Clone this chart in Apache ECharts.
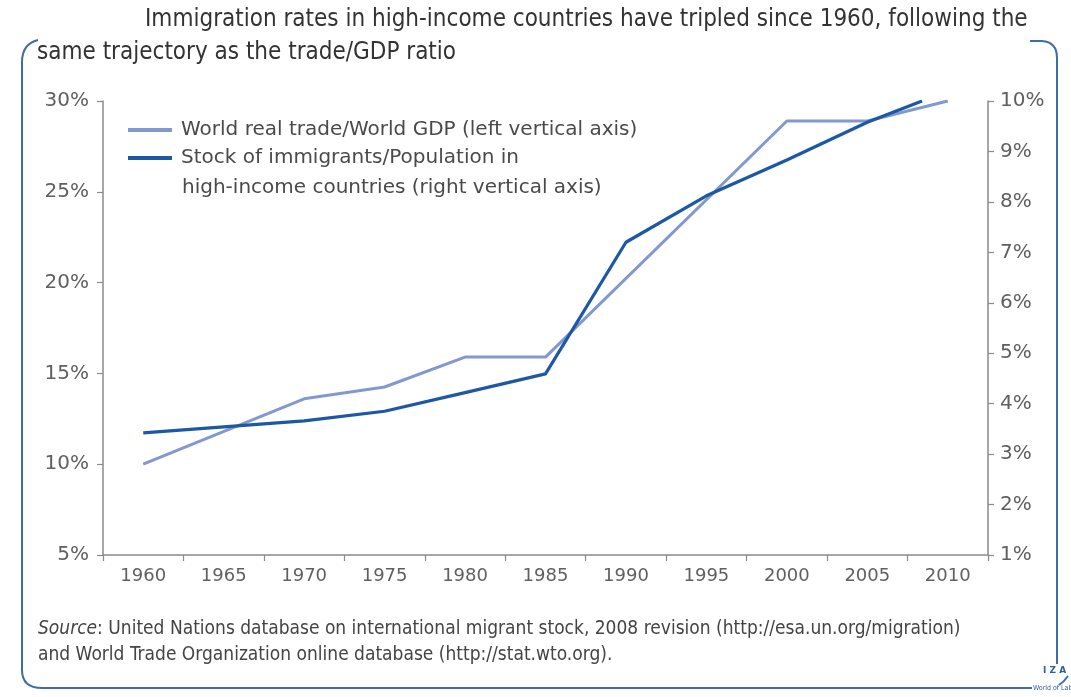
<!DOCTYPE html>
<html>
<head>
<meta charset="utf-8">
<title>Immigration and trade</title>
<script src="https://cdn.jsdelivr.net/npm/echarts@6/dist/echarts.min.js"></script>
<style>
  html, body { margin: 0; padding: 0; background: #ffffff; }
  #chart { width: 1071px; height: 697px; }
</style>
</head>
<body>
<div id="chart"></div>
<script>
// Category labels shown under the x axis
const years = ['1960', '1965', '1970', '1975', '1980', '1985', '1990', '1995', '2000', '2005', '2010'];

// World real trade / World GDP, percent (left axis)
const tradeYears = [1960, 1970, 1975, 1980, 1985, 2000, 2005, 2010];
const tradeValues = [10.0, 13.6, 14.25, 15.9, 15.9, 28.9, 28.9, 30.0];

// Stock of immigrants / population in high-income countries, percent (right axis)
const migrantYears = [1960, 1970, 1975, 1980, 1985, 1990, 1995, 2000, 2005, 2008.4];
const migrantValues = [3.42, 3.66, 3.85, 4.22, 4.59, 7.2, 8.12, 8.83, 9.58, 10.0];

// Axis tick settings
const leftTicks = { min: 5, max: 30, interval: 5 };
const rightTicks = { min: 1, max: 10, interval: 1 };

const tradeName = 'World real trade/World GDP (left vertical axis)';
const migrantName = 'Stock of immigrants/Population in high-income countries (right vertical axis)';

const narrow = '"Liberation Sans Narrow", "DejaVu Sans Condensed", "Open Sans", sans-serif';
const sans = '"DejaVu Sans", "Open Sans", sans-serif';
const axisGrey = '#8a8a8a';
const labelGrey = '#606060';
const frameBlue = '#3d6ea6';

const zip = (xs, ys) => xs.map((x, i) => [x, ys[i]]);

const frameStyle = { fill: null, stroke: frameBlue, lineWidth: 2 };
const seg = (x1, y1, x2, y2) => ({ type: 'line', silent: true, shape: { x1, y1, x2, y2 }, style: frameStyle });
const curve = (x1, y1, cx, cy, x2, y2) => ({
  type: 'bezierCurve', silent: true,
  shape: { x1, y1, cpx1: cx, cpy1: cy, x2, y2 },
  style: frameStyle
});

const chart = echarts.init(document.getElementById('chart'), null, { renderer: 'canvas' });

chart.setOption({
  backgroundColor: '#ffffff',
  animation: false,
  title: [
    {
      text: 'Immigration rates in high-income countries have tripled since 1960, following the',
      left: 145, top: 8, padding: 0,
      textStyle: { fontFamily: narrow, fontSize: 24, fontWeight: 'normal', color: '#333333' }
    },
    {
      text: 'same trajectory as the trade/GDP ratio',
      left: 37, top: 41, padding: 0,
      textStyle: { fontFamily: narrow, fontSize: 24, fontWeight: 'normal', color: '#333333' }
    }
  ],
  legend: {
    orient: 'vertical',
    left: 128, top: 118,
    padding: 0,
    itemGap: 4,
    itemWidth: 44, itemHeight: 4,
    icon: 'rect',
    data: [tradeName, migrantName],
    formatter: name => name === migrantName ? 'Stock of immigrants/Population in' : name,
    textStyle: { fontFamily: sans, fontSize: 20, color: '#4a4a4a', lineHeight: 24, padding: [0, 0, 0, 4] }
  },
  grid: { left: 103, right: 83, top: 101, bottom: 142, containLabel: false },
  xAxis: [
    {
      type: 'category',
      data: years,
      boundaryGap: true,
      axisLine: { lineStyle: { color: axisGrey, width: 1.5 } },
      axisTick: { show: true, length: 6, lineStyle: { color: axisGrey, width: 1.2 } },
      axisLabel: { fontFamily: sans, fontSize: 18, color: labelGrey, margin: 12 },
      splitLine: { show: false }
    },
    {
      type: 'value',
      min: 1957.5, max: 2012.5,
      show: false,
      splitLine: { show: false }
    }
  ],
  yAxis: [
    {
      type: 'value',
      position: 'left',
      min: leftTicks.min, max: leftTicks.max, interval: leftTicks.interval,
      axisLine: { show: true, lineStyle: { color: axisGrey, width: 1.5 } },
      axisTick: { show: true, length: 6, lineStyle: { color: axisGrey, width: 1.2 } },
      axisLabel: { formatter: '{value}%', fontFamily: sans, fontSize: 20, color: labelGrey, margin: 14 },
      splitLine: { show: false }
    },
    {
      type: 'value',
      position: 'right',
      min: rightTicks.min, max: rightTicks.max, interval: rightTicks.interval,
      axisLine: { show: true, lineStyle: { color: axisGrey, width: 1.5 } },
      axisTick: { show: true, length: 6, lineStyle: { color: axisGrey, width: 1.2 } },
      axisLabel: { formatter: '{value}%', fontFamily: sans, fontSize: 20, color: labelGrey, margin: 12 },
      splitLine: { show: false }
    }
  ],
  series: [
    {
      name: tradeName,
      type: 'line',
      xAxisIndex: 1, yAxisIndex: 0,
      data: zip(tradeYears, tradeValues),
      showSymbol: false,
      color: '#8299cf',
      lineStyle: { width: 3, color: '#8299cf' }
    },
    {
      name: migrantName,
      type: 'line',
      xAxisIndex: 1, yAxisIndex: 1,
      data: zip(migrantYears, migrantValues),
      showSymbol: false,
      color: '#1d58a6',
      lineStyle: { width: 3.2, color: '#1d58a6' }
    }
  ],
  graphic: [
    // continuation of the second legend entry
    {
      type: 'text', left: 182, top: 178,
      style: { text: 'high-income countries (right vertical axis)', fontFamily: sans, fontSize: 20, fill: '#4a4a4a' }
    },
    // source note
    {
      type: 'text', left: 38, top: 620,
      style: {
        text: '{i|Source}: United Nations database on international migrant stock, 2008 revision (http://esa.un.org/migration)',
        rich: { i: { fontStyle: 'italic', fontFamily: narrow, fontSize: 19, fill: '#444444' } },
        fontFamily: narrow, fontSize: 19, fill: '#444444'
      }
    },
    {
      type: 'text', left: 38, top: 646,
      style: {
        text: 'and World Trade Organization online database (http://stat.wto.org).',
        fontFamily: narrow, fontSize: 19, fill: '#444444'
      }
    },
    // rounded frame around the figure
    curve(38, 40, 22, 44, 22, 62),
    seg(22, 62, 22, 670),
    curve(22, 670, 22, 688, 42, 688),
    seg(42, 688, 1032, 688),
    seg(1030, 41, 1042, 41),
    curve(1042, 41, 1057, 42, 1057, 58),
    seg(1057, 58, 1057, 664),
    curve(1068, 676, 1064, 682, 1059, 685),
    // publisher mark
    {
      type: 'text', left: 1043, top: 666,
      style: { text: 'I Z A', fontFamily: sans, fontSize: 9, fontWeight: 'bold', fill: '#2f5f9e' }
    },
    {
      type: 'text', left: 1033, top: 685,
      style: { text: 'World of Labor', fontFamily: narrow, fontSize: 7, fill: '#2f5f9e' }
    }
  ]
});
</script>
</body>
</html>
